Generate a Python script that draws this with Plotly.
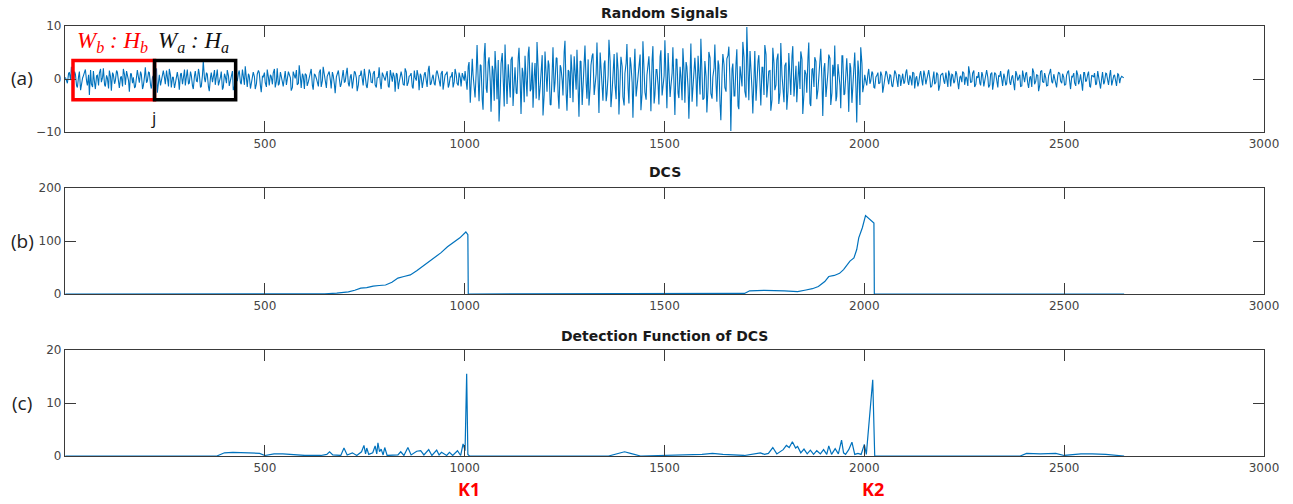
import plotly.graph_objects as go

# ---------------- data ----------------
# Panel (a): random signal, two interleaved sample sets per 5-sample block
sig_a = [0.3, -0.8, 1.2, 2.3, -0.5, 0.9, -1.6, 1.4, -1.0, 0.6,
         1.8, -1.2, -3.0, -0.9, 1.5, -1.9, 0.7, 1.1, -0.6, 2.0,
         -1.4, 0.2, 1.6, -2.2, 0.8, -0.3, 1.3, -1.7, 0.5, 1.9,
         -1.1, 0.6, -2.4, 1.0, 0.3, -1.5, 1.7, -0.7, 0.9, -1.3,
         2.2, -0.4, 1.2, -1.8, 0.6, 1.4, -2.6, 0.8, -0.2, 1.6,
         -1.0, 0.5, 1.9, -1.6, 0.3, -0.9, 1.3, -2.0, 1.1, 0.4,
         -1.2, 1.8, -0.8, 0.7, -1.9, 1.5, -0.5, 1.0, -1.4, 3.4,
         -0.6, 0.9, -2.3, 1.2, 0.2, -1.1, 1.8, -0.7, 1.4, -1.6,
         0.5, 1.7, -1.3, 0.8, -2.1, 1.0, -0.4, 1.6, -1.0, 0.3,
         2.4, -1.5, 0.6, -0.8, 1.3, -1.9, 0.9, 1.2, -2.5, 0.4,
         -0.7, 1.8, -1.2, 0.5, 1.1, -1.6, 2.0, -0.9, 0.7, -1.4,
         1.5, -0.3, 0.9, -2.2, 1.4, 0.1, -1.1, 2.6, -1.7, 0.6,
         1.0, -1.3, 0.4, 1.9, -2.0, 0.8, -0.6, 1.2, -1.5, 2.3,
         -0.9, 0.5, 1.4, -1.8, 0.7, -2.7, 1.1, 0.3, -1.0, 1.7,
         -0.5, 2.1, -1.4, 0.9, -0.8, 1.3, -2.3, 0.6, 1.6, -1.2,
         0.4, -1.7, 1.8, -0.6, 1.0, -1.1, 0.2, 2.2, -1.9, 0.8,
         -0.3, 1.5, -1.6, 0.7, 1.2, -2.4, 0.9, -0.7, 1.4, -1.0,
         2.0, -1.3, 0.5, 1.1, -1.8, 0.3, 1.7, -2.1, 0.6, -0.4,
         1.3, -1.5, 2.5, -0.9, 0.8, -1.2, 1.6, -0.5, 1.0, -2.0,
         0.7, 1.4, -1.1, 0.4, -1.6, 1.9, -0.8, 1.2, -1.4, 0.6]
sig_a2 = [-0.6, 1.1, -0.2, 0.9, 1.4, -1.3, 0.5, -2.1, 0.2, 1.3,
          -0.4, 0.8, 1.7, -1.5, -0.7, 0.6, -1.2, 1.9, 0.3, -1.1,
          0.7, -1.8, 0.4, 1.2, -0.9, 1.6, -0.5, 0.3, -1.4, 0.8,
          1.5, -0.3, 1.0, -0.8, -1.6, 0.9, 0.2, 1.4, -1.9, 0.5,
          -0.7, 1.3, -1.1, 0.4, -0.3, 2.0, -0.6, -1.2, 1.1, 0.2,
          1.6, -1.4, 0.7, 0.3, -1.7, 1.2, -0.2, 0.9, -1.0, 1.8,
          0.5, -0.9, 1.4, -1.3, 0.6, -0.4, 1.9, -1.6, 0.8, 0.1,
          1.2, -1.5, 0.3, -0.6, 1.7, 0.9, -1.2, 0.4, -2.0, 1.0,
          -0.8, 0.6, -0.1, 1.5, -1.4, 0.3, 1.1, -0.7, 1.8, -1.1,
          0.2, 1.0, -1.8, 0.7, 0.4, -0.9, 1.6, -1.3, 0.5, 1.2,
          -1.5, 0.3, 0.8, -1.0, 1.9, -0.4, -1.2, 1.3, -0.6, 0.9,
          -1.1, 1.4, 0.2, -1.6, 0.6, 1.7, -0.8, 0.3, 1.0, -1.9,
          0.7, -0.5, 1.5, -1.2, 0.9, 0.1, -1.4, 1.8, -0.3, 0.6,
          -1.7, 1.1, -0.2, 1.3, -1.0, 0.4, 1.6, -1.5, 0.8, -0.6,
          1.2, -0.9, 0.5, -1.8, 1.4, 0.2, -1.1, 0.7, -0.4, 1.9,
          -1.3, 0.6, 1.0, -0.7, 1.5, -1.6, 0.3, -0.8, 1.2, -0.2,
          0.9, -1.4, 1.7, -0.5, 0.4, 1.1, -1.9, 0.8, 0.2, -1.2,
          1.3, -0.6, 0.7, -1.5, 1.6, -0.3, 0.5, 1.0, -1.7, 0.9,
          -0.4, 1.8, -1.1, 0.3, -0.9, 1.2, 0.6, -1.4, 1.5, -0.7,
          1.0, -1.6, 0.4, 1.3, -0.5, 0.8, -1.2, 0.2, 1.1, -0.3]
sig_b = [1.5, -2.0, 3.2, -1.0, 0.8, -3.5, 6.4, -4.2, 2.5, -5.8,
         6.8, -2.6, 4.1, -6.2, 1.7, 5.3, -3.8, -8.0, 2.9, -1.5,
         6.5, -4.7, 0.9, 3.6, -5.1, 2.2, -2.8, 5.9, -6.6, 1.2,
         4.4, -3.3, 6.1, -1.9, -5.4, 3.0, 7.0, -4.0, 1.6, -6.9,
         5.2, -2.4, 2.7, -4.9, 6.0, -0.8, 3.9, -5.6, 2.1, -3.1,
         7.2, -6.0, 1.4, 4.6, -4.4, 0.6, 5.5, -7.1, 3.3, -2.2,
         6.3, -3.7, -5.0, 2.6, 4.8, -1.2, 6.9, -6.4, 1.9, -4.1,
         3.5, -2.9, 7.4, -5.3, 2.0, -0.9, 5.0, -6.7, 4.2, -3.4,
         1.1, 6.6, -4.6, 2.8, -7.3, 5.7, -1.7, 3.1, -5.9, 7.1,
         -2.5, 0.7, 4.3, -6.1, 6.2, -3.0, 1.8, -4.8, 5.4, -2.0,
         7.3, -5.5, 2.4, -1.4, 6.0, -6.8, 3.7, -3.6, 0.5, 5.8,
         -4.5, 2.3, -7.5, 6.7, -1.1, 4.0, -5.2, 1.3, 7.6, -3.9,
         3.4, -6.3, 5.1, -2.7, 0.4, 6.5, -4.3, 2.6, -7.8, 4.7,
         -1.6, 3.8, 6.1, -9.8, 2.9, -3.2, 5.6, -5.7, 1.0, 7.0,
         -2.3, 9.8, -4.0, 3.1, -6.5, 5.3, -0.7, 4.5, -5.0, 2.2,
         6.4, -3.5, 1.5, -6.0, 5.9, -2.1, 3.6, -4.7, 6.8, -1.3,
         2.5, -5.8, 4.9, -3.0, 6.2, -0.6, -4.4, 3.3, 5.2, -6.6,
         1.7, -2.6, 6.9, -5.1, 2.0, 4.1, -3.8, 0.8, 5.7, -7.0,
         3.0, -1.8, 4.6, -4.9, 2.7, 6.3, -3.3, 1.2, -5.5, 4.4,
         -2.8, 3.9, -6.2, 2.1, -1.0, 5.0, -8.2, 1.4, 6.0, -2.5]
sig_b2 = [-1.2, 2.4, -4.5, 3.8, -2.1, 1.5, -0.6, 2.7, -3.9, 4.6,
          -1.8, 3.2, -0.4, 2.5, -4.1, 0.9, 3.6, -2.7, 4.9, -5.2,
          1.3, 2.8, -3.5, 4.2, -1.0, -2.6, 3.9, -0.8, 2.1, -4.4,
          -0.5, 4.8, -2.3, 3.1, 0.6, -3.7, 1.9, -1.4, 4.5, -2.9,
          -0.7, 3.5, -4.8, 1.2, -2.5, 4.0, -3.2, 2.6, -0.3, 5.1,
          -2.8, 1.7, -3.6, 0.8, 4.3, -2.0, -1.1, 3.4, -4.9, 2.2,
          -0.9, 3.7, -1.6, 4.4, -3.0, 1.0, -2.4, 5.0, -1.3, 2.9,
          -4.2, 0.7, 3.3, -2.2, 4.7, -3.8, 1.6, -0.5, 2.4, -5.0,
          3.0, -1.9, 4.1, -0.6, 2.0, -3.3, 0.4, 4.6, -2.6, 1.4,
          -3.9, 2.8, -0.8, 3.6, -4.6, 1.8, -1.2, 4.2, -3.1, 0.6,
          -2.0, 4.9, -3.4, 1.1, -0.4, 3.8, -2.7, 2.3, -4.0, 1.5,
          3.2, -1.7, 0.9, -4.3, 2.6, -0.2, 4.4, -2.9, 1.7, -3.6,
          0.5, -1.5, 4.0, -3.7, 2.1, -1.0, 3.5, -4.7, 0.8, 2.7,
          -2.4, 4.5, -0.9, 1.9, -3.2, 3.0, -5.1, 2.4, -1.4, 4.1,
          -3.5, 1.2, 5.3, -2.1, 0.3, -4.1, 3.4, -1.8, 2.2, -3.0,
          4.6, -0.6, 1.6, -3.9, 2.9, -1.1, 4.8, -2.5, 0.7, -4.4,
          3.1, -2.2, 1.0, 4.3, -3.3, 2.5, -0.7, -1.9, 3.7, -2.8,
          0.9, 4.0, -4.6, 1.8, -1.5, 3.3, -2.0, 4.7, -0.4, 2.0,
          -3.4, 1.3, 3.9, -2.6, 0.5, -4.2, 2.8, -1.2, 4.4, -3.0,
          1.6, -0.8, 3.0, -4.5, 2.3, -1.7, 3.5, -4.9, 2.9, -1.0]
sig_c = [0.8, -1.2, 1.9, -0.4, 1.1, -1.7, 0.6, -0.9, 1.4, -2.6,
         0.3, 1.2, -1.0, 0.7, -1.5, 1.6, -0.3, 0.9, -1.3, 1.0,
         -0.6, 1.8, -1.1, 0.2, 1.3, -1.8, 0.5, -0.8, 1.5, -1.2,
         0.9, -0.2, 1.7, -1.6, 0.4, -1.0, 1.2, -2.2, 0.7, 1.1,
         -0.9, 0.3, 1.6, -1.4, 0.8, -0.5, 1.0, -1.9, 0.6, 1.4,
         -1.1, 0.2, 2.4, -0.7, 1.1, -1.5, 0.5, 1.3, -1.2, 0.8,
         -0.4, 1.7, -1.6, 0.9, -2.0, 1.2, -0.3, 0.6, 1.5, -1.3,
         0.4, -0.9, 1.8, -1.1, 0.7, -2.1, 1.0, 0.3, -1.4, 1.6,
         -0.6, 1.2, -1.7, 0.5, 2.0, -1.0, 0.8, -2.3, 1.4, -0.5,
         1.1, -1.3, 0.6, 1.9, -0.8, 0.2, -1.6, 1.3, -0.4, 1.0,
         -1.2, 0.7, 1.5, -1.9, 0.4, -0.7, 1.6, -1.0, 0.9, -2.2,
         1.2, -0.3, 1.4, -1.5, 0.6, 1.1, -0.9, 0.5, -1.8, 1.3,
         -0.6, 1.0, -1.1, 1.7, -0.4, 0.8, -1.3, 0.9, 0.1, 0.4]
sig_c2 = [-0.5, 1.0, -0.9, 1.4, -1.6, 0.4, 1.2, -0.7, 0.6, -1.1,
          1.5, -0.4, 0.8, -1.3, 0.2, 1.0, -1.5, 0.6, 0.3, -0.9,
          1.3, -0.5, 0.7, -1.2, 1.1, 0.2, -1.4, 0.9, -0.3, 1.6,
          -1.0, 0.5, 0.1, -1.3, 1.4, -0.6, 0.8, -1.1, 1.0, -0.4,
          1.2, -1.5, 0.6, 0.9, -0.8, 1.5, -1.2, 0.3, -0.6, 1.1,
          0.4, -1.3, 0.9, -0.5, 1.6, -1.0, 0.2, -0.8, 1.3, -1.4,
          0.7, 0.3, -1.1, 1.2, -0.4, 0.9, -1.6, 0.5, -0.2, 1.0,
          -1.2, 1.4, -0.6, 0.4, -1.0, 1.5, -0.3, 0.8, -1.3, 0.6,
          1.1, -0.9, 0.3, -1.5, 1.2, -0.4, 0.7, -1.1, 1.6, -0.7,
          0.2, -1.2, 1.3, -0.5, 0.9, -1.4, 0.6, 1.0, -0.8, 0.3,
          -1.0, 1.4, -0.6, 0.5, 1.1, -1.3, 0.8, -0.2, -0.9, 1.2,
          -0.5, 0.9, -1.4, 0.7, 0.4, -1.1, 1.5, -0.7, 0.2, -1.0,
          1.1, -0.3, 0.8, -1.2, 0.6, -0.4, 1.0, -0.8, 0.5, 0.2]
sig_start = [1, 1001, 2001]
sig_step = 5
sig_offset2 = 3

# Panel (b): DCS
dcs_x = [1, 600, 650, 680, 709, 725, 740, 755, 771, 786, 802, 818, 833, 848, 864,
         880, 895, 910, 926, 941, 957, 972, 988, 1003, 1006, 1008, 1009,
         1600, 1700, 1713, 1750, 1800, 1833, 1854, 1870, 1885, 1901, 1911, 1925,
         1938, 1948, 1964, 1974, 1981, 1986, 1995, 2003, 2024, 2025, 2650]
dcs_y = [0, 0, 0.5, 1.5, 4, 7, 11, 12, 15, 16, 17, 22, 30, 33, 36,
         44, 52, 60, 69, 78, 89, 97, 106, 117, 112, 112, 0,
         0.5, 1, 6, 7, 6, 4.5, 7.6, 10, 14, 23.5, 33, 35,
         39, 46, 62, 68, 84, 106, 125, 148, 134, 0, 0]

# Panel (c): detection function of DCS
det_x = [1, 380, 399, 420, 460, 487, 500, 523, 545, 564, 600, 640, 655, 662, 670,
         690, 698, 706, 719, 730, 742, 748, 752, 755, 760, 770, 776, 780, 783, 787,
         791, 796, 800, 806, 833, 840, 848, 858, 866, 880, 890, 898, 905, 910, 918,
         930, 936, 942, 955, 962, 970, 982, 990, 996, 1001, 1005, 1008, 1012,
         1360, 1385, 1400, 1415, 1440, 1594, 1620, 1646, 1700, 1740, 1750, 1760,
         1771, 1781, 1797, 1805, 1812, 1820, 1828, 1833, 1841, 1849, 1857, 1865,
         1873, 1881, 1890, 1898, 1906, 1911, 1918, 1927, 1935, 1943, 1948, 1953,
         1961, 1969, 1976, 1984, 1992, 2000, 2005, 2021, 2026,
         2390, 2406, 2440, 2479, 2500, 2542, 2570, 2604, 2650]
det_y = [0, 0, 0.6, 0.7, 0.6, 0.5, 0.1, 0.4, 0.4, 0.3, 0.1, 0.1, 0.3, 0.8, 0.2,
         0.1, 1.5, 0.2, 0.6, 0.1, 0.8, 2.0, 0.4, 1.5, 0.3, 0.6, 1.9, 0.4, 2.5, 0.8,
         1.3, 0.2, 1.6, 0.1, 0.2, 0.8, 0.1, 1.6, 0.2, 0.9, 1.0, 0.2, 0.9, 1.2, 0.1,
         1.1, 0.2, 0.7, 0.1, 0.7, 0.1, 1.0, 0.1, 2.3, 1.0, 15.5, 0.3, 0,
         0, 0.5, 0.8, 0.5, 0, 0.3, 0.5, 0.3, 0.1, 0.6, 0.3, 0.5,
         1.6, 0.4, 1.2, 2.0, 1.6, 2.7, 1.5, 1.8, 0.6, 1.3, 0.4, 1.1,
         0.3, 1.0, 0.4, 1.2, 0.3, 1.9, 0.3, 1.4, 0.4, 3.0, 0.6, 0.3,
         1.2, 2.6, 0.3, 0.5, 0.3, 2.2, 0.3, 14.4, 0,
         0, 0.5, 0.4, 0.5, 0.1, 0.4, 0.4, 0.3, 0]

x_ticks = [500, 1000, 1500, 2000, 2500, 3000]
y_ticks = [[-10, 0, 10], [0, 100, 200], [0, 10, 20]]
y_ranges = [[-10, 10], [0, 200], [0, 20]]
titles = ["Random Signals", "DCS", "Detection Function of DCS"]
panel_labels = ["(a)", "(b)", "(c)"]
markers = [("K1", 1010), ("K2", 2022)]

# ---------------- figure ----------------
W, H = 1293, 504
BLUE = "#0072BD"
AX = "#3a3a3a"

pts = []
for start, s1, s2 in zip(sig_start, [sig_a, sig_b, sig_c], [sig_a2, sig_b2, sig_c2]):
    for i, v in enumerate(s1):
        pts.append((start + sig_step * i, v))
    for i, v in enumerate(s2):
        pts.append((start + sig_offset2 + sig_step * i, v))
pts.sort()
sig_x = [p[0] for p in pts]
sig_y = [p[1] for p in pts]

fig = go.Figure()
fig.add_trace(go.Scatter(x=sig_x, y=sig_y, mode="lines", line=dict(color=BLUE, width=1.1),
                         xaxis="x", yaxis="y", showlegend=False))
fig.add_trace(go.Scatter(x=dcs_x, y=dcs_y, mode="lines", line=dict(color=BLUE, width=1.2),
                         xaxis="x2", yaxis="y2", showlegend=False))
fig.add_trace(go.Scatter(x=det_x, y=det_y, mode="lines", line=dict(color=BLUE, width=1.2),
                         xaxis="x3", yaxis="y3", showlegend=False))

def px_y(top, bottom):
    return [1 - bottom / H, 1 - top / H]

xdom = [65 / W, 1264 / W]
ydoms = [px_y(26, 132), px_y(188, 294), px_y(350, 456)]

tickfont = dict(family="DejaVu Sans", size=12, color="#444444")
layout = dict(width=W, height=H, margin=dict(l=0, r=0, t=0, b=0, autoexpand=False),
              paper_bgcolor="white", plot_bgcolor="white", showlegend=False)
for k in range(3):
    sx = "" if k == 0 else str(k + 1)
    layout["xaxis" + sx] = dict(domain=xdom, range=[0, 3000], tickvals=x_ticks,
                                ticks="inside", ticklen=11, tickcolor=AX, tickwidth=1.3,
                                showline=True, linecolor=AX, linewidth=1.3, mirror="ticks",
                                showgrid=False, zeroline=False, tickfont=tickfont,
                                automargin=False, anchor="y" + sx)
    layout["yaxis" + sx] = dict(domain=ydoms[k], range=y_ranges[k], tickvals=y_ticks[k],
                                ticks="inside", ticklen=11, tickcolor=AX, tickwidth=1.3,
                                showline=True, linecolor=AX, linewidth=1.3, mirror="ticks",
                                showgrid=False, zeroline=False, tickfont=tickfont,
                                automargin=False, anchor="x" + sx)
fig.update_layout(**layout)

ann = []
title_y = [13, 172, 336]
label_y = [78, 241, 403]
for k in range(3):
    ann.append(dict(text="<b>" + titles[k] + "</b>", xref="paper", yref="paper",
                    x=(65 + 1264) / 2 / W, y=1 - title_y[k] / H, showarrow=False,
                    xanchor="center", yanchor="middle",
                    font=dict(family="DejaVu Sans", size=14, color="#1a1a1a")))
    ann.append(dict(text=panel_labels[k], xref="paper", yref="paper",
                    x=22 / W, y=1 - label_y[k] / H, showarrow=False,
                    xanchor="center", yanchor="middle",
                    font=dict(family="Open Sans", size=19, color="#222222")))
for name, xv in markers:
    ann.append(dict(text="<b>" + name + "</b>", xref="x3", yref="paper",
                    x=xv, y=1 - 489 / H, showarrow=False, xanchor="center", yanchor="middle",
                    font=dict(family="Open Sans", size=18, color="#ff0000")))

# window annotations on panel (a)
ann.append(dict(text="<i>W</i><sub><i>b</i></sub><i> :</i> <i>H</i><sub><i>b</i></sub>",
                xref="x", yref="y", x=120, y=6.9, showarrow=False,
                xanchor="center", yanchor="middle",
                font=dict(family="Liberation Serif", size=23, color="#ff0000")))
ann.append(dict(text="<i>W</i><sub><i>a</i></sub><i> :</i> <i>H</i><sub><i>a</i></sub>",
                xref="x", yref="y", x=322, y=6.9, showarrow=False,
                xanchor="center", yanchor="middle",
                font=dict(family="Liberation Serif", size=23, color="#111111")))
ann.append(dict(text="j", xref="x", yref="y", x=222, y=-7.3, showarrow=False,
                xanchor="center", yanchor="middle",
                font=dict(family="Open Sans", size=17, color="#111111")))
fig.update_layout(annotations=ann)

fig.add_shape(type="rect", xref="x", yref="y", x0=20, x1=224, y0=-3.9, y1=3.5,
              line=dict(color="#ff0000", width=3.5))
fig.add_shape(type="rect", xref="x", yref="y", x0=224, x1=427, y0=-3.9, y1=3.5,
              line=dict(color="#000000", width=3.5))

fig.write_html("out.html")
